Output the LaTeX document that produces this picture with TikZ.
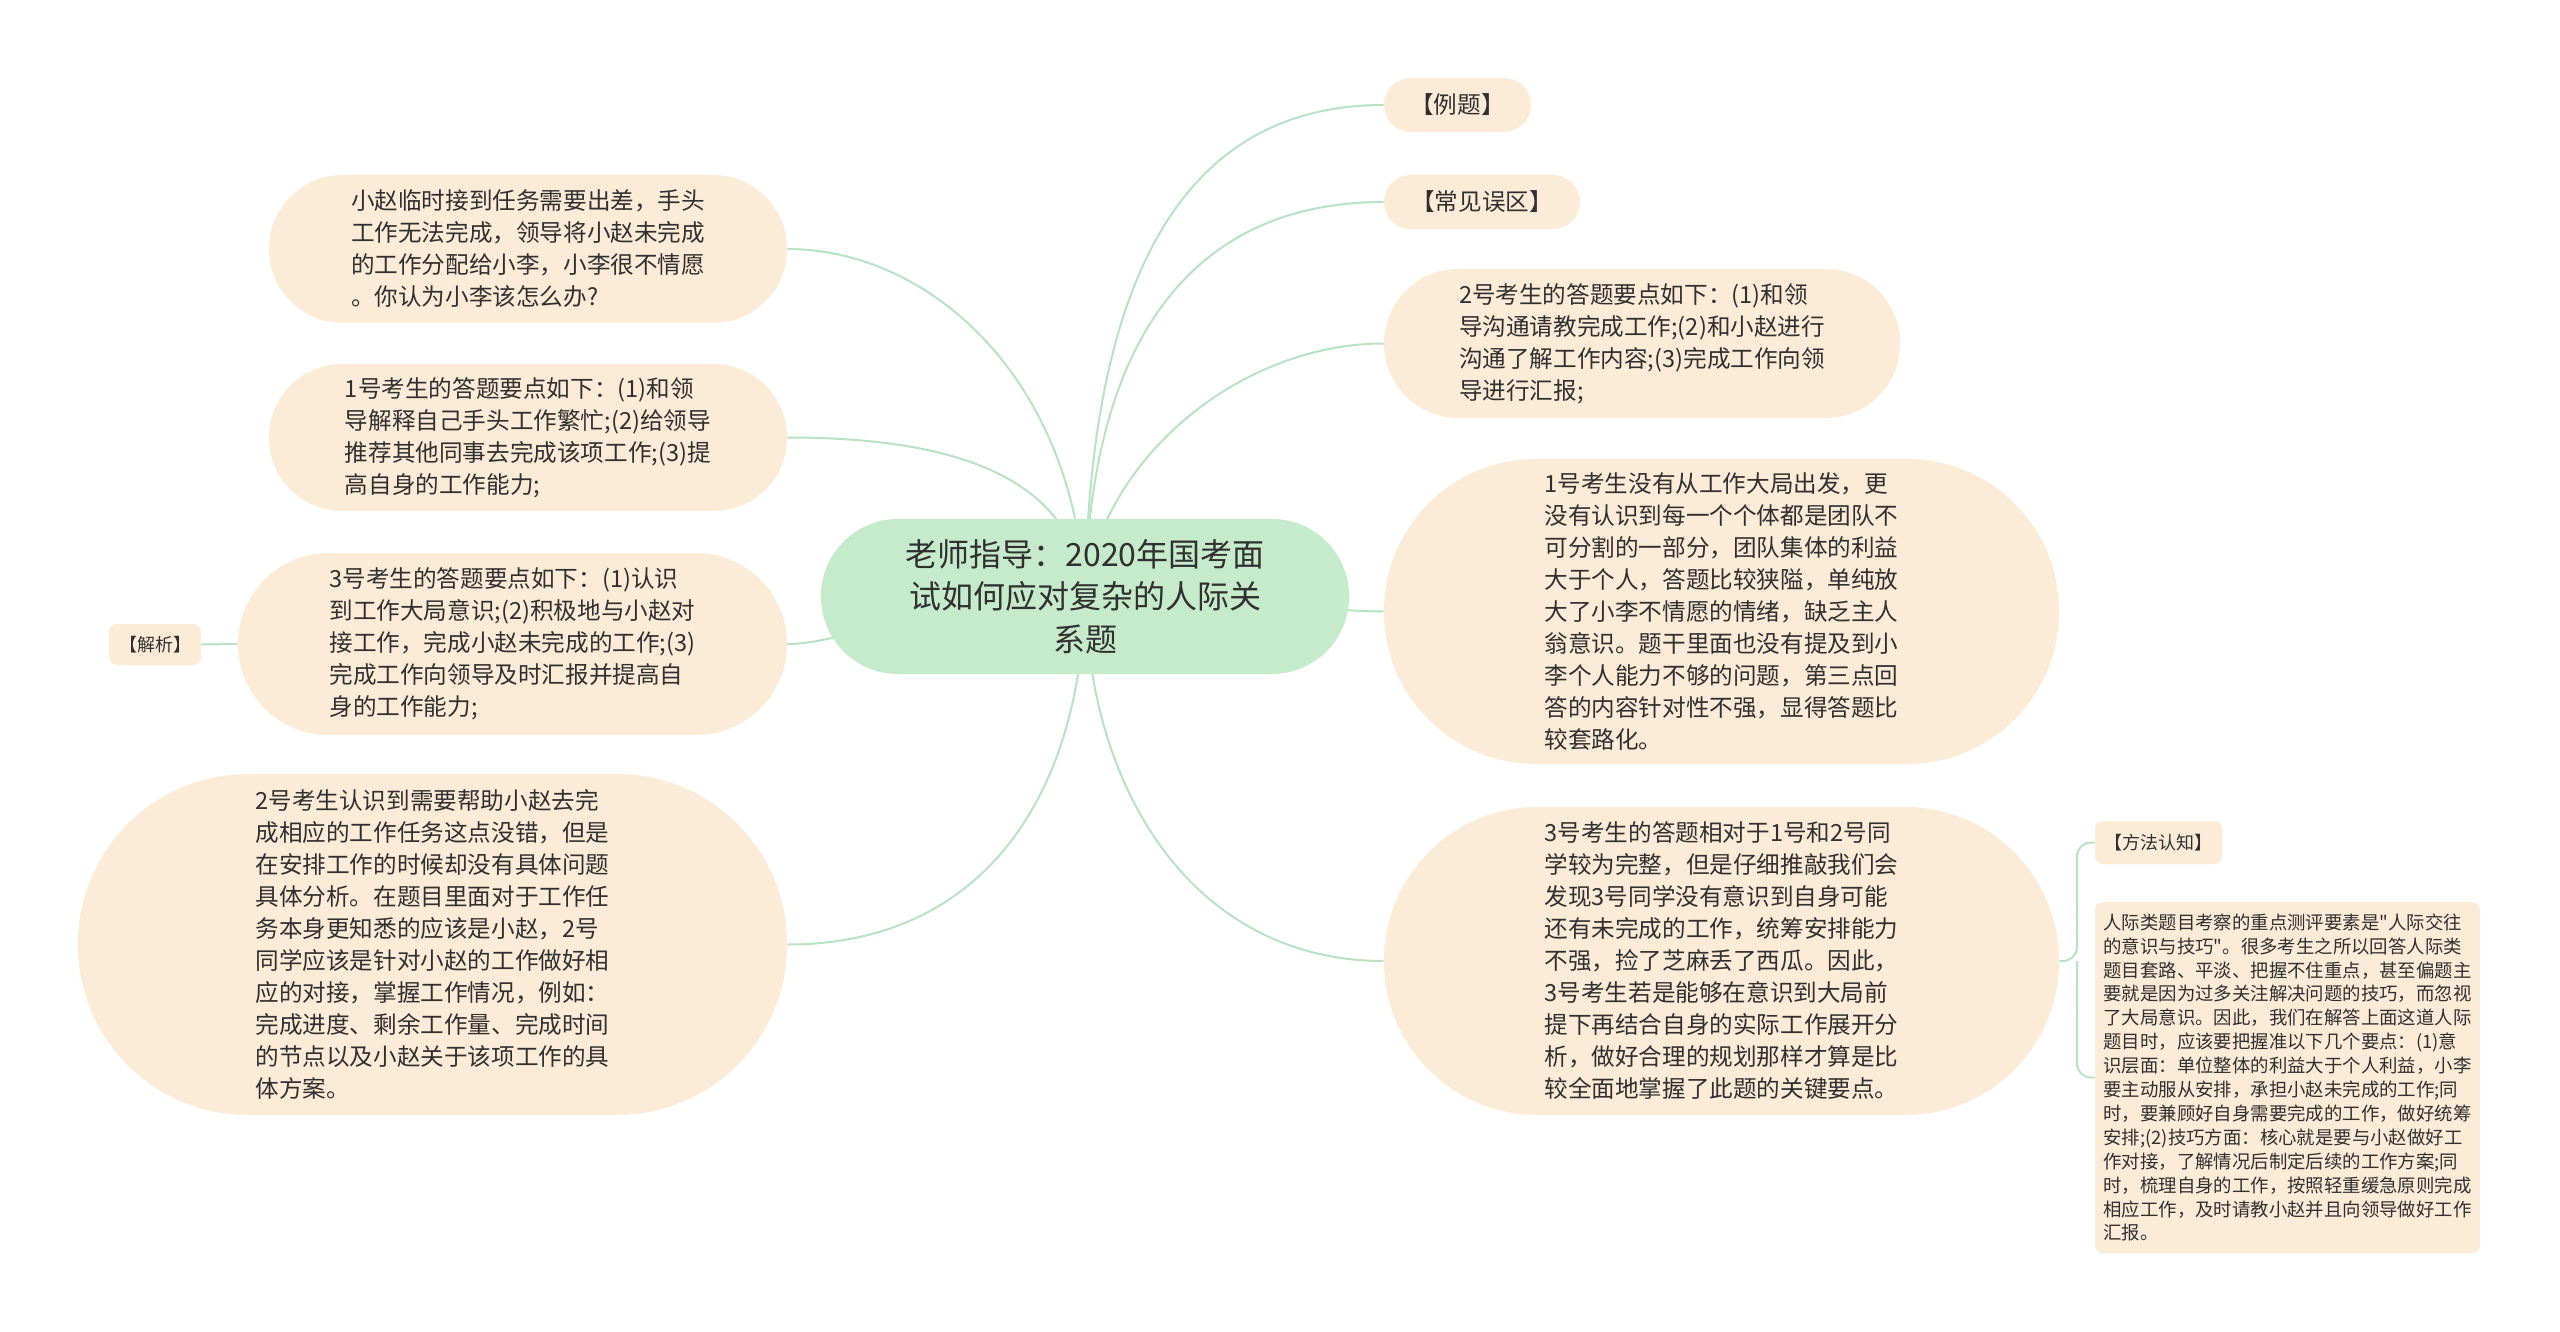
\documentclass[tikz,border=0pt]{standalone}
\usepackage{fontspec}
\setmainfont{Noto Sans CJK SC}
\newfontfamily\plainf{Noto Sans CJK SC}
\usetikzlibrary{backgrounds}
\definecolor{peach}{HTML}{FCEBD6}
\definecolor{mint}{HTML}{C6EBCB}
\definecolor{linkc}{HTML}{B8E3C0}
\definecolor{txt}{HTML}{303030}
\begin{document}
\begin{tikzpicture}[x=0.5pt,y=-0.5pt,
  box/.style={fill=peach, text=txt, inner sep=0pt, align=left,
    font=\fontsize{11.8pt}{16pt}\selectfont},
  smallbox/.style={fill=peach, text=txt, inner sep=0pt, rounded corners=4pt,
    font=\fontsize{9pt}{12pt}\selectfont},
  tagbox/.style={fill=peach, text=txt, inner sep=0pt,
    font=\fontsize{11.8pt}{16pt}\selectfont},
  link/.style={draw=linkc, line width=1pt}]
\useasboundingbox (0,0) rectangle (2560,1332);

% central topic
\node[fill=mint, text=txt, inner sep=0pt, align=center, rounded corners=38.5pt,
  minimum width=264pt, minimum height=77.5pt,
  font=\fontsize{16pt}{21.2pt}\selectfont] (c) at (1085,596.5)
  {老师指导：2020年国考面\\试如何应对复杂的人际关\\系题};

% left branch
\node[box, minimum width=259pt, minimum height=74pt, rounded corners=36.9pt] (n1) at (528,249)
  {小赵临时接到任务需要出差，手头\\工作无法完成，领导将小赵未完成\\的工作分配给小李，小李很不情愿\\。你认为小李该怎么办?};
\node[box, minimum width=259pt, minimum height=73.5pt, rounded corners=36.6pt] (n2) at (528,437.5)
  {1号考生的答题要点如下：(1)和领\\导解释自己手头工作繁忙;(2)给领导\\推荐其他同事去完成该项工作;(3)提\\高自身的工作能力;};
\node[box, minimum width=274.5pt, minimum height=91pt, rounded corners=45.4pt] (n3) at (512.5,644)
  {3号考生的答题要点如下：(1)认识\\到工作大局意识;(2)积极地与小赵对\\接工作，完成小赵未完成的工作;(3)\\完成工作向领导及时汇报并提高自\\身的工作能力;};
\node[smallbox, minimum width=46pt, minimum height=20.5pt] (jx) at (155,644.5) {【解析】};
\node[box, minimum width=354.5pt, minimum height=170.5pt, rounded corners=85pt] (n5) at (432.5,944.5)
  {2号考生认识到需要帮助小赵去完\\成相应的工作任务这点没错，但是\\在安排工作的时候却没有具体问题\\具体分析。在题目里面对于工作任\\务本身更知悉的应该是小赵，2号\\同学应该是针对小赵的工作做好相\\应的对接，掌握工作情况，例如：\\完成进度、剩余工作量、完成时间\\的节点以及小赵关于该项工作的具\\体方案。};

% right branch
\node[tagbox, minimum width=73.5pt, minimum height=27pt, rounded corners=13.4pt] (ex) at (1457.5,105) {【例题】};
\node[tagbox, minimum width=98pt, minimum height=27pt, rounded corners=13.4pt] (cj) at (1482,202) {【常见误区】};
\node[box, minimum width=258pt, minimum height=74.5pt, rounded corners=37.1pt] (n8) at (1642,343.5)
  {2号考生的答题要点如下：(1)和领\\导沟通请教完成工作;(2)和小赵进行\\沟通了解工作内容;(3)完成工作向领\\导进行汇报;};
\node[box, minimum width=337.5pt, minimum height=152.5pt, rounded corners=76pt] (n9) at (1721.5,611.5)
  {1号考生没有从工作大局出发，更\\没有认识到每一个个体都是团队不\\可分割的一部分，团队集体的利益\\大于个人，答题比较狭隘，单纯放\\大了小李不情愿的情绪，缺乏主人\\翁意识。题干里面也没有提及到小\\李个人能力不够的问题，第三点回\\答的内容针对性不强，显得答题比\\较套路化。};
\node[box, minimum width=337.5pt, minimum height=154pt, rounded corners=76.8pt] (n10) at (1721.5,961)
  {3号考生的答题相对于1号和2号同\\学较为完整，但是仔细推敲我们会\\发现3号同学没有意识到自身可能\\还有未完成的工作，统筹安排能力\\不强，捡了芝麻丢了西瓜。因此，\\3号考生若是能够在意识到大局前\\提下再结合自身的实际工作展开分\\析，做好合理的规划那样才算是比\\较全面地掌握了此题的关键要点。};
\node[smallbox, minimum width=63.5pt, minimum height=21.5pt] (fa) at (2158.5,842.5) {【方法认知】};
\node[smallbox, align=left, minimum width=192.5pt, minimum height=175.5pt,
  font=\plainf\fontsize{9.2pt}{11.95pt}\selectfont] (n12) at (2287.5,1077.5)
  {人际类题目考察的重点测评要素是"人际交往\\的意识与技巧"。很多考生之所以回答人际类\\题目套路、平淡、把握不住重点，甚至偏题主\\要就是因为过多关注解决问题的技巧，而忽视\\了大局意识。因此，我们在解答上面这道人际\\题目时，应该要把握准以下几个要点：(1)意\\识层面：单位整体的利益大于个人利益，小李\\要主动服从安排，承担小赵未完成的工作;同\\时，要兼顾好自身需要完成的工作，做好统筹\\安排;(2)技巧方面：核心就是要与小赵做好工\\作对接，了解情况后制定后续的工作方案;同\\时，梳理自身的工作，按照轻重缓急原则完成\\相应工作，及时请教小赵并且向领导做好工作\\汇报。};

\coordinate (br) at (2077,961);

\begin{pgfonlayer}{background}
  \fill[white] (0,0) rectangle (2560,1332);
  \draw[link] (c.center) .. controls +(5,-345) and +(-185,0) .. (ex.west);
  \draw[link] (c.center) .. controls +(5,-267) and +(-184,0) .. (cj.west);
  \draw[link] (c.center) .. controls +(15,-137) and +(-144,0) .. (n8.west);
  \draw[link] (c.center) .. controls +(150,0) and +(-60,0) .. (n9.west);
  \draw[link] (c.center) .. controls +(5,203) and +(-184,0) .. (n10.west);
  \draw[link] (c.center) .. controls +(-5,203) and +(193,0) .. (n5.east);
  \draw[link] (c.center) .. controls +(-10,-217) and +(143,0) .. (n1.east);
  \draw[link] (c.center) .. controls +(-10,-117) and +(173,0) .. (n2.east);
  \draw[link] (c.center) .. controls +(-150,0) and +(60,0) .. (n3.east);
  \draw[link] (jx.east) -- (n3.west);
  \draw[link, rounded corners=7pt] (n10.east) -- (br) |- (fa.west);
  \draw[link, rounded corners=7pt] (br) |- (n12.west);
\end{pgfonlayer}
\end{tikzpicture}
\end{document}
